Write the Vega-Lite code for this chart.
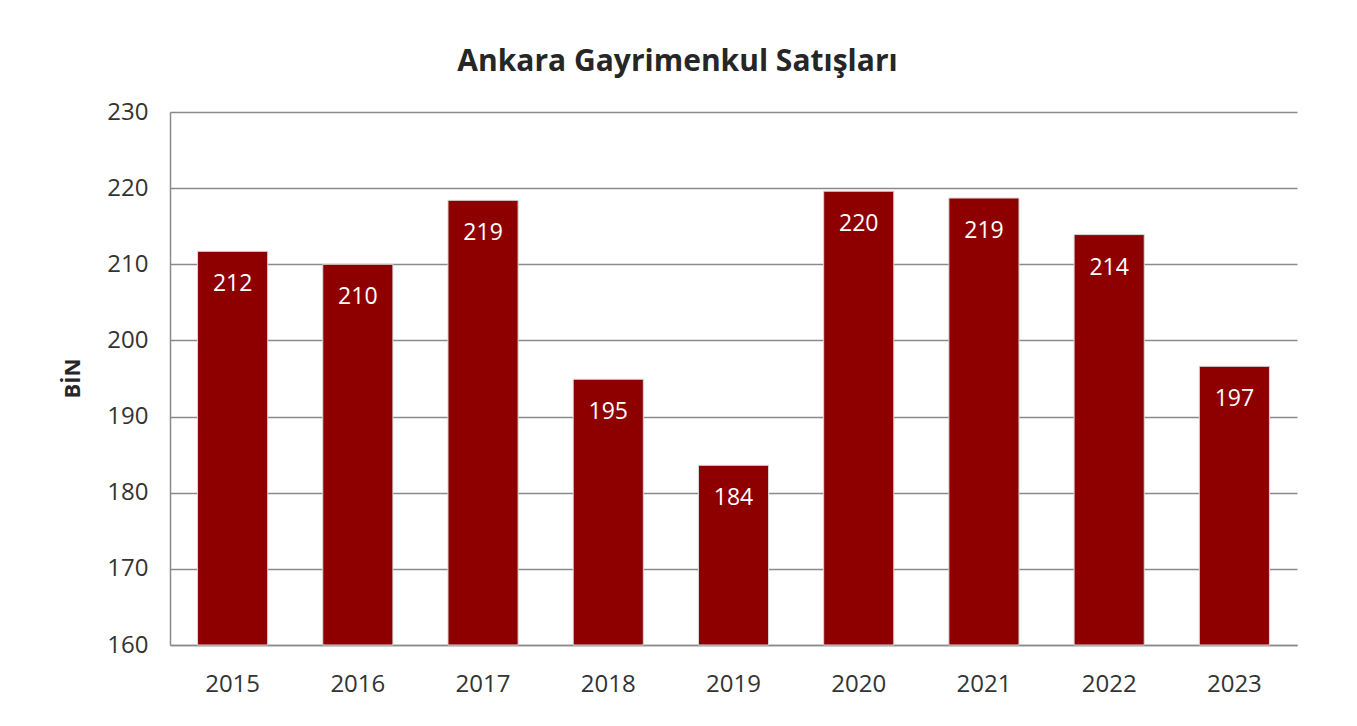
{
  "$schema": "https://vega.github.io/schema/vega-lite/v6.json",
  "width": 1127,
  "height": 533,
  "autosize": {"type": "none"},
  "padding": {"left": 170, "top": 112, "right": 60, "bottom": 81},
  "background": "white",
  "title": {
    "text": "Ankara Gayrimenkul Satışları",
    "font": "Open Sans",
    "fontSize": 30,
    "fontWeight": "bold",
    "color": "#262626",
    "anchor": "middle",
    "dx": -56,
    "offset": 23
  },
  "data": {
    "values": [
      {"yil": "2015", "deger": 211.7, "etiket": "212"},
      {"yil": "2016", "deger": 210.0, "etiket": "210"},
      {"yil": "2017", "deger": 218.4, "etiket": "219"},
      {"yil": "2018", "deger": 194.9, "etiket": "195"},
      {"yil": "2019", "deger": 183.6, "etiket": "184"},
      {"yil": "2020", "deger": 219.6, "etiket": "220"},
      {"yil": "2021", "deger": 218.7, "etiket": "219"},
      {"yil": "2022", "deger": 213.9, "etiket": "214"},
      {"yil": "2023", "deger": 196.6, "etiket": "197"}
    ]
  },
  "encoding": {
    "x": {
      "field": "yil",
      "type": "nominal",
      "sort": null,
      "scale": {"paddingInner": 0.44, "paddingOuter": 0.22},
      "axis": {
        "title": null,
        "labelAngle": 0,
        "labelFont": "Open Sans",
        "labelFontSize": 24,
        "labelColor": "#333333",
        "labelPadding": 27,
        "ticks": false,
        "domain": true,
        "domainColor": "#8a8a8a",
        "domainWidth": 1.5,
        "grid": false
      }
    },
    "y": {
      "field": "deger",
      "type": "quantitative",
      "scale": {"domain": [160, 230], "zero": false, "nice": false, "clamp": true},
      "axis": {
        "values": [160, 170, 180, 190, 200, 210, 220, 230],
        "title": "BİN",
        "titleFont": "Open Sans",
        "titleFontSize": 22,
        "titleFontWeight": "bold",
        "titleColor": "#262626",
        "titleX": -98,
        "titleY": 266,
        "titleAngle": -90,
        "titleAlign": "center",
        "titleBaseline": "middle",
        "labelFont": "Open Sans",
        "labelFontSize": 24,
        "labelColor": "#333333",
        "labelPadding": 22,
        "ticks": false,
        "domain": true,
        "domainColor": "#8a8a8a",
        "domainWidth": 1.5,
        "grid": true,
        "gridColor": "#8a8a8a",
        "gridWidth": 1.5
      }
    }
  },
  "layer": [
    {
      "mark": {"type": "bar", "color": "#8e0000", "stroke": "#d8d8d8", "strokeWidth": 1},
      "encoding": {"y2": {"datum": 160}}
    },
    {
      "mark": {
        "type": "text",
        "color": "white",
        "font": "Open Sans",
        "fontSize": 23,
        "baseline": "middle",
        "dy": 33
      },
      "encoding": {"text": {"field": "etiket"}}
    }
  ],
  "config": {"view": {"stroke": null}}
}
